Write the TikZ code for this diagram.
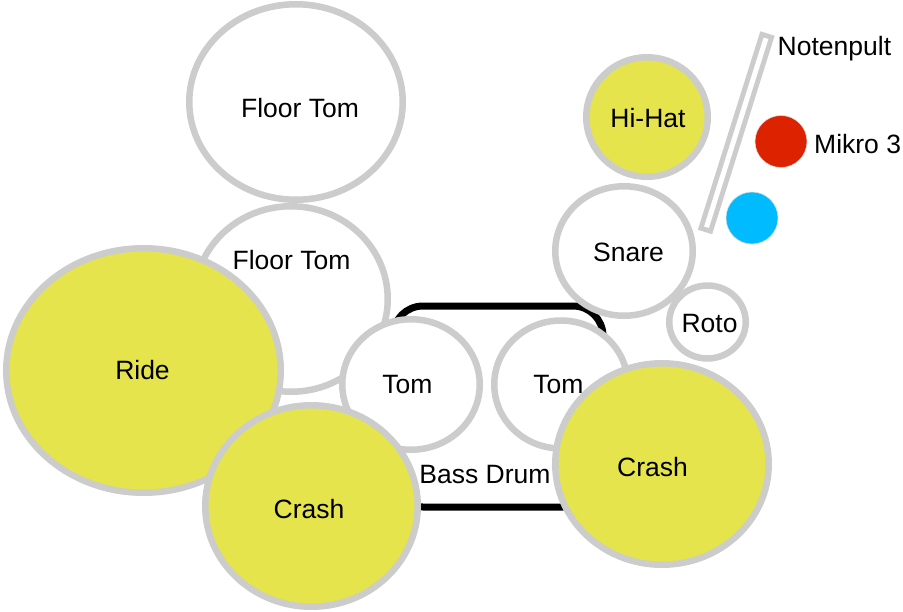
\documentclass[tikz,border=0pt]{standalone}
\usepackage{fontspec}
\setmainfont{Liberation Sans}
\usepackage{xcolor}
\usepackage{tikz}
\usetikzlibrary{calc}
\definecolor{rim}{HTML}{CCCCCC}
\definecolor{brass}{HTML}{E5E44C}
\definecolor{mikred}{HTML}{DD2200}
\definecolor{mikblue}{HTML}{00BBFF}
\tikzset{
  drum/.style={draw=rim, fill=white, line width=6.5pt},
  cymbal/.style={draw=rim, fill=brass, line width=6.5pt},
  kick/.style={draw=black, fill=white, line width=7pt, rounded corners=30pt},
  mic/.style={draw=rim!70, line width=0.6pt},
  lab/.style={text=black, anchor=base, inner sep=0pt, font=\fontsize{26.5}{30}\selectfont},
  labr/.style={lab, anchor=base west}
}

\begin{document}
\begin{tikzpicture}[x=1pt,y=-1pt]
  \useasboundingbox (0,0) rectangle (903,611);
  % centres of the kit
  \coordinate (ftomA) at (296,102);
  \coordinate (ftomB) at (291,299);
  \coordinate (ride) at (143.5,370.5);
  \coordinate (crashL) at (311.5,506);
  \coordinate (tomA) at (411,384.5);
  \coordinate (tomB) at (561,384.5);
  \coordinate (crashR) at (662,464);
  \coordinate (hihat) at (647,117);
  \coordinate (snare) at (624,251);
  \coordinate (roto) at (707.5,322);
  \coordinate (pultB) at (705,232);
  \coordinate (pultT) at (767.5,33.5);
  \coordinate (mikA) at (781,141.5);
  \coordinate (mikB) at (752,218);
  % bass drum
  \draw[kick] (393,306) rectangle (603,507);
  \draw[drum] (ftomA) ellipse [x radius=106.75pt, y radius=97.75pt];
  \draw[drum] (ftomB) ellipse [x radius=96.75pt, y radius=92.75pt];
  \draw[cymbal] (ride) ellipse [x radius=137.25pt, y radius=122.25pt];
  \draw[drum] (tomA) ellipse [x radius=68.75pt, y radius=65.25pt];
  \draw[drum] (tomB) ellipse [x radius=66.75pt, y radius=64pt];
  \draw[cymbal] (crashL) ellipse [x radius=106.25pt, y radius=100.75pt];
  \draw[cymbal] (crashR) ellipse [x radius=106.75pt, y radius=100.75pt];
  \draw[cymbal] (hihat) ellipse [x radius=60.75pt, y radius=59.75pt];
  \draw[drum] (snare) ellipse [x radius=68.75pt, y radius=64.75pt];
  \draw[drum] (roto) ellipse [x radius=38.25pt, y radius=36.5pt];
  % music stand
  \draw[rim, line width=15pt] (pultB) -- (pultT);
  \draw[white, line width=5pt, shorten <=5pt, shorten >=5pt] (pultB) -- (pultT);
  % microphones
  \draw[mic, fill=mikred] (mikA) circle (26pt);
  \draw[mic, fill=mikblue] (mikB) circle (26pt);
  % labels
  \node[lab] (ftomAlab) at (300,117) {Floor Tom};
  \node[lab] (ftomBlab) at (291.5,269) {Floor Tom};
  \node[lab] (ridelab) at (142.5,379) {Ride};
  \node[lab] (crashLlab) at (309,518) {Crash};
  \node[lab] (tomAlab) at (407.5,393) {Tom};
  \node[lab] (tomBlab) at (558.5,393) {Tom};
  \node[lab] (kicklab) at (485,483) {Bass Drum};
  \node[lab] (crashRlab) at (652.5,476) {Crash};
  \node[lab] (hihatlab) at (648,127.5) {Hi-Hat};
  \node[lab] (snarelab) at (628.5,261.5) {Snare};
  \node[lab] (rotolab) at (709.5,332) {Roto};
  \node[labr] (mikAlab) at (814,153) {Mikro 3};
  \node[labr] (pultlab) at (777.5,55) {Notenpult};
\end{tikzpicture}
\end{document}
